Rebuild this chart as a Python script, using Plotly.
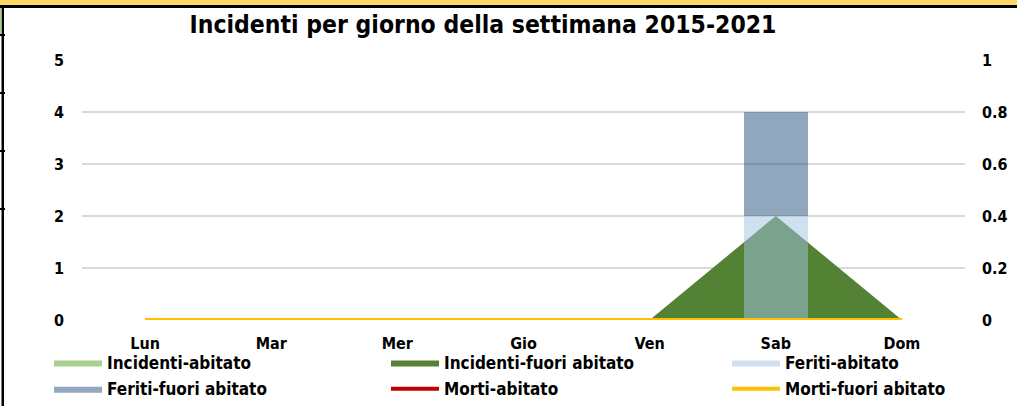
import plotly.graph_objects as go

# ---------------- data ----------------
giorni = ["Lun", "Mar", "Mer", "Gio", "Ven", "Sab", "Dom"]
incidenti_abitato = [0, 0, 0, 0, 0, 0, 0]
incidenti_fuori_abitato = [0, 0, 0, 0, 0, 2, 0]
feriti_abitato = [0, 0, 0, 0, 0, 2, 0]
feriti_fuori_abitato = [0, 0, 0, 0, 0, 2, 0]
morti_abitato = [0, 0, 0, 0, 0, 0, 0]
morti_fuori_abitato = [0, 0, 0, 0, 0, 0, 0]
left_ticks = [0, 1, 2, 3, 4, 5]
right_ticks = [0, 0.2, 0.4, 0.6, 0.8, 1]

# ---------------- layout geometry ----------------
W, H = 1017, 406
ML, MR, MT, MB = 82, 52, 60, 86
PW, PH = W - ML - MR, H - MT - MB


def px(x):
    return (x - ML) / PW


def py(y):
    return (H - MB - y) / PH


FONT = "DejaVu Sans Condensed, DejaVu Sans, sans-serif"

c_inc_ab = "#A9D08E"
c_inc_fu = "#548235"
c_fer_ab = "rgba(159,193,227,0.5)"
c_fer_fu = "rgba(33,79,125,0.5)"
c_mor_ab = "#C00000"
c_mor_fu = "#FFC000"

fig = go.Figure()

# areas (primary axis)
fig.add_trace(go.Scatter(x=giorni, y=incidenti_abitato, name="Incidenti-abitato",
                         mode="lines", line=dict(width=0, color=c_inc_ab),
                         fill="tozeroy", fillcolor=c_inc_ab, legend="legend",
                         legendgroup="g1", xaxis="x", yaxis="y"))
fig.add_trace(go.Scatter(x=giorni, y=incidenti_fuori_abitato, name="Incidenti-fuori abitato",
                         mode="lines", line=dict(width=0, color=c_inc_fu),
                         fill="tozeroy", fillcolor=c_inc_fu, legend="legend2",
                         legendgroup="g2", xaxis="x", yaxis="y"))

# bars (overlay axis, same scale)
fig.add_trace(go.Bar(x=giorni, y=feriti_abitato, name="Feriti-abitato",
                     marker=dict(color=c_fer_ab, line=dict(width=0)), width=0.51,
                     showlegend=False, legendgroup="g3", xaxis="x", yaxis="y2"))
fig.add_trace(go.Bar(x=giorni, y=feriti_fuori_abitato, name="Feriti-fuori abitato",
                     marker=dict(color=c_fer_fu, line=dict(width=0)), width=0.51,
                     showlegend=False, legendgroup="g4", xaxis="x", yaxis="y2"))
# legend proxies for the bars (wide swatches)
fig.add_trace(go.Scatter(x=[None], y=[None], name="Feriti-abitato", mode="lines",
                         line=dict(width=0, color=c_fer_ab), fill="tozeroy",
                         fillcolor=c_fer_ab, legend="legend3", legendgroup="g3",
                         xaxis="x", yaxis="y2"))
fig.add_trace(go.Scatter(x=[None], y=[None], name="Feriti-fuori abitato", mode="lines",
                         line=dict(width=0, color=c_fer_fu), fill="tozeroy",
                         fillcolor=c_fer_fu, legend="legend", legendgroup="g4",
                         xaxis="x", yaxis="y2"))

# lines (secondary right axis)
fig.add_trace(go.Scatter(x=giorni, y=morti_abitato, name="Morti-abitato", mode="lines",
                         line=dict(width=4, color=c_mor_ab), legend="legend2",
                         legendgroup="g5", xaxis="x", yaxis="y3"))
fig.add_trace(go.Scatter(x=giorni, y=morti_fuori_abitato, name="Morti-fuori abitato",
                         mode="lines", line=dict(width=4, color=c_mor_fu),
                         legend="legend3", legendgroup="g6", xaxis="x", yaxis="y3"))

tickfont = dict(family=FONT, size=16, color="#000000", weight="bold")
legfont = dict(family=FONT, size=17, color="#000000", weight="bold")

leg_common = dict(orientation="v", xanchor="left", yanchor="top",
                  xref="container", yref="container", y=1 - 345 / H,
                  font=legfont, itemwidth=48, tracegroupgap=1,
                  bgcolor="rgba(0,0,0,0)", traceorder="grouped")

# border decorations (spreadsheet cell borders)
shapes = [
    dict(type="rect", xref="paper", yref="paper", x0=px(0), x1=px(W), y0=py(0), y1=py(5),
         fillcolor="#FFD966", line=dict(width=0), layer="above"),
    dict(type="rect", xref="paper", yref="paper", x0=px(0), x1=px(W), y0=py(5), y1=py(8),
         fillcolor="#000000", line=dict(width=0), layer="above"),
    dict(type="rect", xref="paper", yref="paper", x0=px(1.5), x1=px(4), y0=py(8), y1=py(H),
         fillcolor="#000000", line=dict(width=0), layer="above"),
    dict(type="rect", xref="paper", yref="paper", x0=px(0), x1=px(1.5), y0=py(8), y1=py(35),
         fillcolor="#A9D08E", line=dict(width=0), layer="above"),
]
for yy in [35, 93, 151, 209]:
    shapes.append(dict(type="rect", xref="paper", yref="paper", x0=px(0), x1=px(5),
                       y0=py(yy - 1), y1=py(yy + 1), fillcolor="#000000",
                       line=dict(width=0), layer="above"))

fig.update_layout(
    width=W, height=H,
    margin=dict(l=ML, r=MR, t=MT, b=MB, pad=0, autoexpand=False),
    paper_bgcolor="#FFFFFF", plot_bgcolor="#FFFFFF",
    barmode="stack",
    title=dict(text="Incidenti per giorno della settimana 2015-2021",
               x=483 / W, xanchor="center", xref="container",
               y=1 - 24 / H, yanchor="middle", yref="container",
               font=dict(family=FONT, size=24.5, color="#000000", weight="bold")),
    xaxis=dict(type="category", categoryorder="array", categoryarray=giorni,
               range=[-0.5, 6.5], showgrid=False, zeroline=False, showline=False,
               ticks="", tickfont=tickfont, ticklabelstandoff=12),
    yaxis=dict(range=[0, 5], tickvals=left_ticks, showgrid=True, gridcolor="#D9D9D9",
               gridwidth=1.5, zeroline=False, showline=False, ticks="",
               tickfont=tickfont, ticklabelstandoff=17),
    yaxis2=dict(range=[0, 5], overlaying="y", visible=False, showgrid=False),
    yaxis3=dict(range=[0, 1], tickvals=right_ticks, overlaying="y", side="right",
                showgrid=False, zeroline=False, showline=False, ticks="",
                tickfont=tickfont, ticklabelstandoff=16),
    legend=dict(x=49 / W, **leg_common),
    legend2=dict(x=386 / W, **leg_common),
    legend3=dict(x=727 / W, **leg_common),
    shapes=shapes,
)

fig.write_html("out.html", config={"displayModeBar": False},
               post_script="document.body.style.margin='0px';")
